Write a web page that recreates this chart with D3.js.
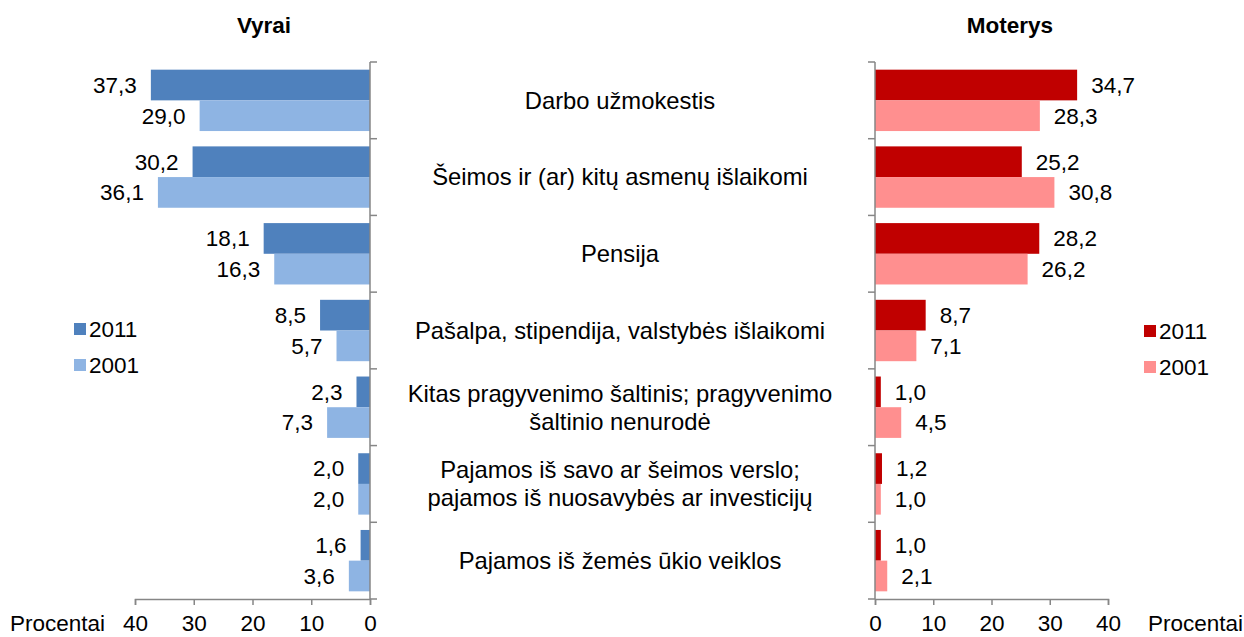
<!DOCTYPE html>
<html>
<head>
<meta charset="utf-8">
<script src="https://cdn.jsdelivr.net/npm/d3@7"></script>
<style>
  body { margin: 0; background: #fff; }
  svg { display: block; font-family: "Liberation Sans", Arial, sans-serif; }
</style>
</head>
<body>
<div id="chart"></div>
<script>
// categories (multi-line labels split by "\n")
const categories = [
  "Darbo užmokestis",
  "Šeimos ir (ar) kitų asmenų išlaikomi",
  "Pensija",
  "Pašalpa, stipendija, valstybės išlaikomi",
  "Kitas pragyvenimo šaltinis; pragyvenimo\nšaltinio nenurodė",
  "Pajamos iš savo ar šeimos verslo;\npajamos iš nuosavybės ar investicijų",
  "Pajamos iš žemės ūkio veiklos"
];
const years = ["2011", "2001"];
const men2011 = [37.3, 30.2, 18.1, 8.5, 2.3, 2.0, 1.6];
const men2001 = [29.0, 36.1, 16.3, 5.7, 7.3, 2.0, 3.6];
const women2011 = [34.7, 25.2, 28.2, 8.7, 1.0, 1.2, 1.0];
const women2001 = [28.3, 30.8, 26.2, 7.1, 4.5, 1.0, 2.1];
const axisTicks = [0, 10, 20, 30, 40];

const width = 1244, height = 637;
const plotTop = 62, plotBottom = 599;
const fs = 22.5;
const axisColor = "#868686";

const svg = d3.select("#chart").append("svg")
  .attr("width", width).attr("height", height)
  .style("font-size", fs + "px");

const y = d3.scaleBand().domain(d3.range(categories.length))
  .range([plotTop, plotBottom]).paddingInner(0.2).paddingOuter(0.1);
const ySub = d3.scaleBand().domain(years).range([0, y.bandwidth()]);
const step = y.step();

const xL = d3.scaleLinear().domain([0, 40]).range([370, 135]);
const xR = d3.scaleLinear().domain([0, 40]).range([875, 1108]);

const fmt = v => d3.format(".1f")(v).replace(".", ",");

function panel(x, s2011, s2001, colors, side) {
  const g = svg.append("g");
  const series = [s2011, s2001];
  series.forEach((vals, si) => {
    const yr = years[si];
    g.selectAll(null).data(vals).join("rect")
      .attr("x", d => side < 0 ? x(d) : x(0))
      .attr("width", d => Math.abs(x(d) - x(0)))
      .attr("y", (d, i) => y(i) + ySub(yr))
      .attr("height", ySub.bandwidth())
      .attr("fill", colors[si]);
    g.selectAll(null).data(vals).join("text")
      .attr("x", d => x(d) + side * 14)
      .attr("y", (d, i) => y(i) + ySub(yr) + ySub.bandwidth() / 2)
      .attr("dy", "0.35em")
      .attr("text-anchor", side < 0 ? "end" : "start")
      .attr("fill", "#000")
      .text(fmt);
  });

  // value axis
  const ax = svg.append("g").attr("transform", `translate(0,${plotBottom})`)
    .call(d3.axisBottom(x).tickValues(axisTicks).tickSize(6).tickPadding(10).tickFormat(d3.format("d")));
  ax.select(".domain").attr("stroke", axisColor).attr("stroke-width", 1.5);
  ax.selectAll(".tick line").attr("stroke", axisColor).attr("stroke-width", 1.5);
  ax.selectAll(".tick text").attr("fill", "#000").style("font-size", fs + "px")
    .style("font-family", "'Liberation Sans', Arial, sans-serif");

  // category axis
  const x0 = x(0);
  const cat = svg.append("g");
  cat.append("line").attr("x1", x0).attr("x2", x0).attr("y1", plotTop).attr("y2", plotBottom)
    .attr("stroke", axisColor).attr("stroke-width", 1.5);
  cat.selectAll(null).data(d3.range(categories.length + 1)).join("line")
    .attr("x1", x0).attr("x2", x0 - side * 7)
    .attr("y1", i => plotTop + i * step).attr("y2", i => plotTop + i * step)
    .attr("stroke", axisColor).attr("stroke-width", 1.5);
}

panel(xL, men2011, men2001, ["#4F81BD", "#8EB4E3"], -1);
panel(xR, women2011, women2001, ["#C00000", "#FF8F8F"], 1);

// titles
svg.append("text").attr("x", 264).attr("y", 33).attr("text-anchor", "middle")
  .attr("font-weight", "bold").text("Vyrai");
svg.append("text").attr("x", 1010).attr("y", 33).attr("text-anchor", "middle")
  .attr("font-weight", "bold").text("Moterys");

// axis titles
svg.append("text").attr("x", 10).attr("y", 631).text("Procentai");
svg.append("text").attr("x", 1148).attr("y", 631).text("Procentai");

// category labels
const lineH = 28;
svg.append("g").style("font-size", "23.8px").selectAll("text").data(categories).join("text")
  .attr("text-anchor", "middle")
  .each(function(d, i) {
    const lines = d.split("\n");
    const cy = y(i) + y.bandwidth() / 2;
    const t = d3.select(this);
    lines.forEach((ln, k) => {
      t.append("tspan").attr("x", 620)
        .attr("y", cy + (k - (lines.length - 1) / 2) * lineH)
        .attr("dy", "0.35em").text(ln);
    });
  });

// legends
function legend(x, yTop, colors) {
  const g = svg.append("g");
  years.forEach((yr, i) => {
    const yy = yTop + i * 36;
    g.append("rect").attr("x", x).attr("y", yy - 6).attr("width", 12).attr("height", 12).attr("fill", colors[i]);
    g.append("text").attr("x", x + 15).attr("y", yy).attr("dy", "0.35em").text(yr);
  });
}
legend(74, 329, ["#4F81BD", "#8EB4E3"]);
legend(1144, 331, ["#C00000", "#FF8F8F"]);
</script>
</body>
</html>
